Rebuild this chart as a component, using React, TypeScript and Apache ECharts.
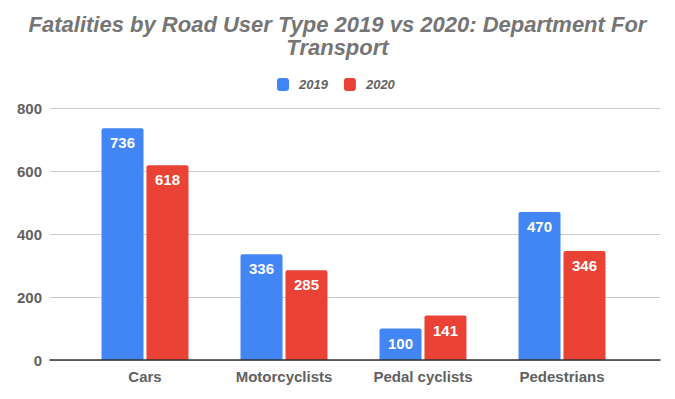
import React, { useEffect, useRef } from "react";
import * as echarts from "echarts";

const categories = ["Cars", "Motorcyclists", "Pedal cyclists", "Pedestrians"];
const values2019 = [736, 336, 100, 470];
const values2020 = [618, 285, 141, 346];
const seriesNames = ["2019", "2020"];
const yTicks = { min: 0, max: 800, interval: 200 };

const FONT = "'Liberation Sans', Arial, sans-serif";

export default function App() {
  const ref = useRef<HTMLDivElement>(null);
  useEffect(() => {
    document.body.style.margin = "0";
    if (!ref.current) return;
    const chart = echarts.init(ref.current, undefined, { renderer: "svg" });
    const label = {
      show: true,
      position: "insideTop",
      distance: 7,
      color: "#fff",
      fontWeight: "bold",
      fontSize: 15,
      fontFamily: FONT,
    };
    const legendText = {
      fontFamily: FONT,
      fontSize: 13,
      fontStyle: "italic",
      fontWeight: "bold",
      color: "#616161",
    };
    chart.setOption({
      animation: false,
      backgroundColor: "#fff",
      title: {
        text: "Fatalities by Road User Type 2019 vs 2020: Department For\nTransport",
        left: "center",
        top: 8,
        textStyle: {
          fontFamily: FONT,
          fontSize: 22,
          fontStyle: "italic",
          fontWeight: "bold",
          color: "#757575",
          lineHeight: 23,
        },
      },
      legend: {
        top: 73,
        left: 272,
        itemWidth: 12,
        itemHeight: 13,
        itemGap: 16,
        icon: "roundRect",
        formatter: "{s|}{t|{name}}",
        textStyle: {
          ...legendText,
          rich: {
            s: { width: 5, height: 13 },
            t: { ...legendText },
          },
        },
        data: seriesNames,
      },
      grid: [
        { left: 50, right: 15, top: 108, bottom: 39 },
        { left: 75.5, right: 43.5, top: 108, bottom: 39 },
      ],
      xAxis: [
        {
          type: "category",
          gridIndex: 0,
          data: [""],
          axisLine: { show: true, lineStyle: { color: "#333", width: 1.5 } },
          axisTick: { show: false },
          axisLabel: { show: false },
          z: 5,
        },
        {
          type: "category",
          gridIndex: 1,
          data: categories,
          axisLine: { show: false },
          axisTick: { show: false },
          axisLabel: {
            fontFamily: FONT,
            fontSize: 15,
            fontWeight: "bold",
            color: "#616161",
            margin: 9,
          },
        },
      ],
      yAxis: [
        {
          type: "value",
          gridIndex: 0,
          min: yTicks.min,
          max: yTicks.max,
          interval: yTicks.interval,
          axisLine: { show: false },
          axisTick: { show: false },
          splitLine: { lineStyle: { color: "#cccccc" } },
          axisLabel: {
            fontFamily: FONT,
            fontSize: 15,
            fontWeight: "bold",
            color: "#616161",
            margin: 8,
          },
        },
        {
          type: "value",
          gridIndex: 1,
          min: yTicks.min,
          max: yTicks.max,
          interval: yTicks.interval,
          show: false,
        },
      ],
      series: [
        {
          name: seriesNames[0],
          type: "bar",
          xAxisIndex: 1,
          yAxisIndex: 1,
          data: values2019,
          barWidth: 42,
          barGap: "7%",
          itemStyle: { color: "#4285F4", borderRadius: [2, 2, 0, 0] },
          label,
        },
        {
          name: seriesNames[1],
          type: "bar",
          xAxisIndex: 1,
          yAxisIndex: 1,
          data: values2020,
          barWidth: 42,
          barGap: "7%",
          itemStyle: { color: "#EA4335", borderRadius: [2, 2, 0, 0] },
          label,
        },
      ],
    });
    return () => chart.dispose();
  }, []);
  return <div ref={ref} style={{ width: 675, height: 399 }} />;
}
